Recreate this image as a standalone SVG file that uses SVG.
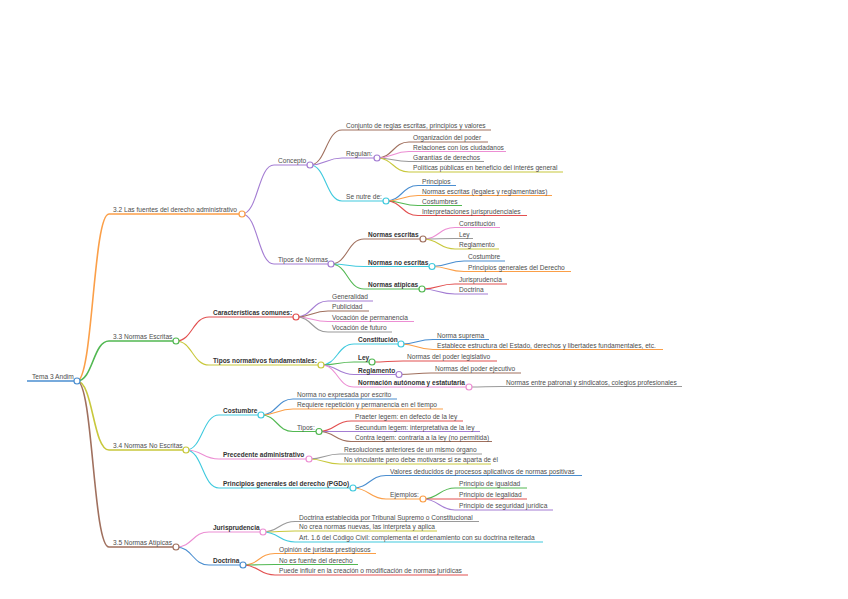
<svg xmlns="http://www.w3.org/2000/svg" width="848" height="599" viewBox="0 0 848 599">
<style>
.l{fill:none;stroke-width:1.1}
.l1{stroke-width:1.6}
.k{fill:#fff;stroke-width:1.2}
.blue{stroke:#4a8ed0}.orange{stroke:#fb9f48}.green{stroke:#52b852}.red{stroke:#e25050}.purple{stroke:#a47dd3}.brown{stroke:#a0705e}.pink{stroke:#ec8ed3}.gray{stroke:#9a9a9a}.olive{stroke:#c8c83c}.cyan{stroke:#40cade}
text{font-family:"Liberation Sans",Arial,sans-serif;font-size:6.6px;fill:#4d4d4d}
.b{font-weight:bold;font-size:6.5px;fill:#333}
</style>
<rect width="848" height="599" fill="#fff"/>
<g id="connectors">
<path class="l l1 blue" d="M27,381 H74"/>
<path class="l l1 orange" d="M77,381 C93,381 93,214 109,214 H239"/>
<path class="l l1 green" d="M77,381 C93,381 93,341 109,341 H173"/>
<path class="l l1 olive" d="M77,381 C93,381 93,450 109,450 H183"/>
<path class="l l1 brown" d="M77,381 C93,381 93,547 109,547 H173"/>
<path class="l purple" d="M242,214 C258,214 258,165 274,165 H307"/>
<path class="l purple" d="M242,214 C258,214 258,264 274,264 H328"/>
<path class="l brown" d="M310,165 C326,165 326,130 342,130 H491"/>
<path class="l purple" d="M310,165 C326,165 326,158 342,158 H374"/>
<path class="l cyan" d="M310,165 C326,165 326,201 342,201 H383"/>
<path class="l brown" d="M377,158 C393,158 393,142 409,142 H488"/>
<path class="l pink" d="M377,158 C393,158 393,151.5 409,151.5 H506"/>
<path class="l gray" d="M377,158 C393,158 393,161.5 409,161.5 H484"/>
<path class="l olive" d="M377,158 C393,158 393,172 409,172 H563"/>
<path class="l blue" d="M386,201 C402,201 402,185.5 418,185.5 H456"/>
<path class="l orange" d="M386,201 C402,201 402,195.5 418,195.5 H552"/>
<path class="l green" d="M386,201 C402,201 402,205.5 418,205.5 H462"/>
<path class="l red" d="M386,201 C402,201 402,215.5 418,215.5 H527"/>
<path class="l brown" d="M331,264 C347.5,264 347.5,239 364,239 H420"/>
<path class="l cyan" d="M331,264 C347.5,264 347.5,266.5 364,266.5 H429"/>
<path class="l green" d="M331,264 C347.5,264 347.5,289 364,289 H419"/>
<path class="l pink" d="M423,239 C439,239 439,227.5 455,227.5 H500"/>
<path class="l gray" d="M423,239 C439,239 439,238.5 455,238.5 H473"/>
<path class="l olive" d="M423,239 C439,239 439,249 455,249 H499"/>
<path class="l blue" d="M432,266.5 C448,266.5 448,261 464,261 H505"/>
<path class="l orange" d="M432,266.5 C448,266.5 448,271.5 464,271.5 H571"/>
<path class="l red" d="M422,289 C438.5,289 438.5,284 455,284 H507"/>
<path class="l purple" d="M422,289 C438.5,289 438.5,294 455,294 H488"/>
<path class="l red" d="M176,341 C192.5,341 192.5,317 209,317 H293"/>
<path class="l olive" d="M176,341 C192.5,341 192.5,365 209,365 H318"/>
<path class="l purple" d="M296,317 C312,317 312,301 328,301 H373"/>
<path class="l brown" d="M296,317 C312,317 312,311 328,311 H369"/>
<path class="l pink" d="M296,317 C312,317 312,321.5 328,321.5 H414"/>
<path class="l gray" d="M296,317 C312,317 312,332 328,332 H392"/>
<path class="l cyan" d="M321,365 C337.5,365 337.5,344 354,344 H398"/>
<path class="l green" d="M321,365 C337.5,365 337.5,362 354,362 H369"/>
<path class="l purple" d="M321,365 C337.5,365 337.5,374.5 354,374.5 H396"/>
<path class="l pink" d="M321,365 C337.5,365 337.5,387 354,387 H466"/>
<path class="l blue" d="M401,344 C417,344 417,339.5 433,339.5 H489"/>
<path class="l orange" d="M401,344 C417,344 417,349.5 433,349.5 H663"/>
<path class="l red" d="M372,362 C387.5,362 387.5,361 403,361 H497"/>
<path class="l brown" d="M399,374.5 C415,374.5 415,373 431,373 H521"/>
<path class="l gray" d="M469,387 C485.5,387 485.5,386.5 502,386.5 H682"/>
<path class="l cyan" d="M186,450 C202.5,450 202.5,415 219,415 H258"/>
<path class="l pink" d="M186,450 C202.5,450 202.5,459 219,459 H306"/>
<path class="l cyan" d="M186,450 C202.5,450 202.5,488 219,488 H350"/>
<path class="l blue" d="M261,415 C277,415 277,399 293,399 H397"/>
<path class="l orange" d="M261,415 C277,415 277,409 293,409 H443"/>
<path class="l green" d="M261,415 C277,415 277,431.5 293,431.5 H316"/>
<path class="l red" d="M319,431.5 C335,431.5 335,421 351,421 H463"/>
<path class="l purple" d="M319,431.5 C335,431.5 335,431.5 351,431.5 H480"/>
<path class="l brown" d="M319,431.5 C335,431.5 335,441.5 351,441.5 H492"/>
<path class="l gray" d="M309,459 C324.5,459 324.5,454 340,454 H482"/>
<path class="l olive" d="M309,459 C324.5,459 324.5,464 340,464 H491"/>
<path class="l blue" d="M353,488 C369.5,488 369.5,475.5 386,475.5 H582"/>
<path class="l orange" d="M353,488 C369.5,488 369.5,499 386,499 H420"/>
<path class="l green" d="M423,499 C439,499 439,488 455,488 H527"/>
<path class="l red" d="M423,499 C439,499 439,499 455,499 H527"/>
<path class="l purple" d="M423,499 C439,499 439,510 455,510 H553"/>
<path class="l pink" d="M176,547 C192.5,547 192.5,532 209,532 H260"/>
<path class="l blue" d="M176,547 C192.5,547 192.5,565 209,565 H240"/>
<path class="l gray" d="M263,532 C279,532 279,521.5 295,521.5 H479"/>
<path class="l olive" d="M263,532 C279,532 279,531 295,531 H437"/>
<path class="l cyan" d="M263,532 C279,532 279,542 295,542 H543"/>
<path class="l orange" d="M243,565 C259,565 259,553.5 275,553.5 H376"/>
<path class="l green" d="M243,565 C259,565 259,564.5 275,564.5 H358"/>
<path class="l red" d="M243,565 C259,565 259,575 275,575 H468"/>
</g>
<g id="root"><text x="32" y="379">Tema 3 Andim</text><circle class="k blue" cx="77" cy="381" r="3"/></g>
<g id="n32"><text x="113" y="212">3.2 Las fuentes del derecho administrativo</text><circle class="k orange" cx="242" cy="214" r="3"/></g>
<g id="concepto"><text x="278" y="163">Concepto</text><circle class="k purple" cx="310" cy="165" r="3"/></g>
<g id="conjunto"><text x="346" y="128">Conjunto de reglas escritas, principios y valores</text></g>
<g id="regulan"><text x="346" y="156">Regulan:</text><circle class="k purple" cx="377" cy="158" r="3"/></g>
<g id="organizacion"><text x="413" y="140">Organización del poder</text></g>
<g id="relaciones"><text x="413" y="149.5">Relaciones con los ciudadanos</text></g>
<g id="garantias"><text x="413" y="159.5">Garantías de derechos</text></g>
<g id="politicas"><text x="413" y="170">Políticas públicas en beneficio del interés general</text></g>
<g id="nutre"><text x="346" y="199">Se nutre de:</text><circle class="k cyan" cx="386" cy="201" r="3"/></g>
<g id="principios"><text x="422" y="183.5">Principios</text></g>
<g id="normasesc2"><text x="422" y="193.5">Normas escritas (legales y reglamentarias)</text></g>
<g id="costumbres"><text x="422" y="203.5">Costumbres</text></g>
<g id="interpretaciones"><text x="422" y="213.5">Interpretaciones jurisprudenciales</text></g>
<g id="tipos"><text x="278" y="262">Tipos de Normas</text><circle class="k purple" cx="331" cy="264" r="3"/></g>
<g id="nescritas"><text class="b" x="368" y="237">Normas escritas</text><circle class="k brown" cx="423" cy="239" r="3"/></g>
<g id="constitucion1"><text x="459" y="225.5">Constitución</text></g>
<g id="ley1"><text x="459" y="236.5">Ley</text></g>
<g id="reglamento1"><text x="459" y="247">Reglamento</text></g>
<g id="nnoescritas"><text class="b" x="368" y="264.5">Normas no escritas</text><circle class="k cyan" cx="432" cy="266.5" r="3"/></g>
<g id="costumbre1"><text x="468" y="259">Costumbre</text></g>
<g id="pgd1"><text x="468" y="269.5">Principios generales del Derecho</text></g>
<g id="natipicas"><text class="b" x="368" y="287">Normas atípicas</text><circle class="k green" cx="422" cy="289" r="3"/></g>
<g id="juris1"><text x="459" y="282">Jurisprudencia</text></g>
<g id="doctrina1"><text x="459" y="292">Doctrina</text></g>
<g id="n33"><text x="113" y="339">3.3 Normas Escritas</text><circle class="k green" cx="176" cy="341" r="3"/></g>
<g id="caracteristicas"><text class="b" x="213" y="315">Características comunes:</text><circle class="k red" cx="296" cy="317" r="3"/></g>
<g id="generalidad"><text x="332" y="299">Generalidad</text></g>
<g id="publicidad"><text x="332" y="309">Publicidad</text></g>
<g id="permanencia"><text x="332" y="319.5">Vocación de permanencia</text></g>
<g id="futuro"><text x="332" y="330">Vocación de futuro</text></g>
<g id="tiposfund"><text class="b" x="213" y="363">Tipos normativos fundamentales:</text><circle class="k olive" cx="321" cy="365" r="3"/></g>
<g id="constitucion2"><text class="b" x="358" y="342">Constitución</text><circle class="k cyan" cx="401" cy="344" r="3"/></g>
<g id="suprema"><text x="437" y="337.5">Norma suprema</text></g>
<g id="establece"><text x="437" y="347.5">Establece estructura del Estado, derechos y libertades fundamentales, etc.</text></g>
<g id="ley2"><text class="b" x="358" y="360">Ley</text><circle class="k green" cx="372" cy="362" r="3"/></g>
<g id="legislativo"><text x="407" y="359">Normas del poder legislativo</text></g>
<g id="reglamento2"><text class="b" x="358" y="372.5">Reglamento</text><circle class="k purple" cx="399" cy="374.5" r="3"/></g>
<g id="ejecutivo"><text x="435" y="371">Normas del poder ejecutivo</text></g>
<g id="normacion"><text class="b" x="358" y="385">Normación autónoma y estatutaria</text><circle class="k pink" cx="469" cy="387" r="3"/></g>
<g id="patronal"><text x="506" y="384.5">Normas entre patronal y sindicatos, colegios profesionales</text></g>
<g id="n34"><text x="113" y="448">3.4 Normas No Escritas</text><circle class="k olive" cx="186" cy="450" r="3"/></g>
<g id="costumbre2"><text class="b" x="223" y="413">Costumbre</text><circle class="k cyan" cx="261" cy="415" r="3"/></g>
<g id="noexpresada"><text x="297" y="397">Norma no expresada por escrito</text></g>
<g id="repeticion"><text x="297" y="407">Requiere repetición y permanencia en el tiempo</text></g>
<g id="tipos2"><text x="297" y="429.5">Tipos:</text><circle class="k green" cx="319" cy="431.5" r="3"/></g>
<g id="praeter"><text x="355" y="419">Praeter legem: en defecto de la ley</text></g>
<g id="secundum"><text x="355" y="429.5">Secundum legem: interpretativa de la ley</text></g>
<g id="contra"><text x="355" y="439.5">Contra legem: contraria a la ley (no permitida)</text></g>
<g id="precedente"><text class="b" x="223" y="457">Precedente administrativo</text><circle class="k pink" cx="309" cy="459" r="3"/></g>
<g id="resoluciones"><text x="344" y="452">Resoluciones anteriores de un mismo órgano</text></g>
<g id="novinculante"><text x="344" y="462">No vinculante pero debe motivarse si se aparta de él</text></g>
<g id="pgdo"><text class="b" x="223" y="486">Principios generales del derecho (PGDo)</text><circle class="k cyan" cx="353" cy="488" r="3"/></g>
<g id="valores"><text x="390" y="473.5">Valores deducidos de procesos aplicativos de normas positivas</text></g>
<g id="ejemplos"><text x="390" y="497">Ejemplos:</text><circle class="k orange" cx="423" cy="499" r="3"/></g>
<g id="igualdad"><text x="459" y="486">Principio de igualdad</text></g>
<g id="legalidad"><text x="459" y="497">Principio de legalidad</text></g>
<g id="seguridad"><text x="459" y="508">Principio de seguridad jurídica</text></g>
<g id="n35"><text x="113" y="545">3.5 Normas Atípicas</text><circle class="k brown" cx="176" cy="547" r="3"/></g>
<g id="juris2"><text class="b" x="213" y="530">Jurisprudencia</text><circle class="k pink" cx="263" cy="532" r="3"/></g>
<g id="establecida"><text x="299" y="519.5">Doctrina establecida por Tribunal Supremo o Constitucional</text></g>
<g id="nocrea"><text x="299" y="529">No crea normas nuevas, las interpreta y aplica</text></g>
<g id="art16"><text x="299" y="540">Art. 1.6 del Código Civil: complementa el ordenamiento con su doctrina reiterada</text></g>
<g id="doctrina2"><text class="b" x="213" y="563">Doctrina</text><circle class="k blue" cx="243" cy="565" r="3"/></g>
<g id="opinion"><text x="279" y="551.5">Opinión de juristas prestigiosos</text></g>
<g id="nofuente"><text x="279" y="562.5">No es fuente del derecho</text></g>
<g id="influir"><text x="279" y="573">Puede influir en la creación o modificación de normas jurídicas</text></g>
</svg>
